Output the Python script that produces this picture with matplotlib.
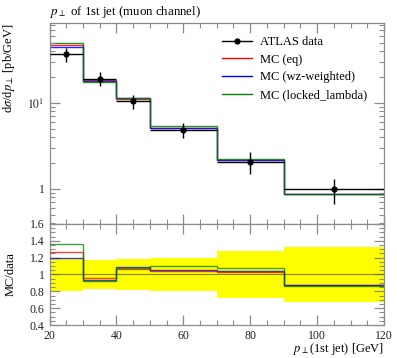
import numpy as np
import matplotlib
matplotlib.use("Agg")
import matplotlib.pyplot as plt
from matplotlib.ticker import MultipleLocator, FixedLocator, NullFormatter, LogLocator, FixedFormatter

plt.rcParams['font.family'] = ['Liberation Serif', 'DejaVu Serif']
plt.rcParams['mathtext.fontset'] = 'stix'

# ---- data ----
bin_edges = [20, 30, 40, 50, 70, 90, 120]
data_vals = [36.8, 19.2, 10.5, 4.85, 2.08, 0.99]
data_err = [7.0, 3.4, 1.9, 0.97, 0.58, 0.32]
mc_eq = [46.7, 18.4, 11.2, 5.07, 2.14, 0.87]
mc_wz = [44.2, 18.0, 11.4, 5.09, 2.16, 0.87]
mc_locked = [50.0, 17.7, 11.3, 5.36, 2.25, 0.86]

title = r"$p_\perp$ of 1st jet (muon channel)"
labels = ["ATLAS data", "MC (eq)", "MC (wz-weighted)", "MC (locked_lambda)"]
colors = ["black", "red", "blue", "green"]

edges = np.array(bin_edges, dtype=float)
centers = 0.5 * (edges[1:] + edges[:-1])
halfw = 0.5 * (edges[1:] - edges[:-1])
d = np.array(data_vals)
de = np.array(data_err)

W, H = 397, 358
fig = plt.figure(figsize=(W / 100, H / 100), dpi=100)
ax = fig.add_axes([49.5 / W, 1 - 224 / H, (384 - 49.5) / W, (224 - 23) / H])
axr = fig.add_axes([49.5 / W, 1 - 325 / H, (384 - 49.5) / W, (325 - 224) / H])

spc = '#8c8c8c'
for a in (ax, axr):
    for s in a.spines.values():
        s.set_color(spc)
        s.set_linewidth(0.9)
    a.tick_params(which='both', direction='in', top=True, right=True, color=spc,
                  labelsize=8.5, labelcolor='#222222')
    a.tick_params(which='major', length=7.5, width=0.9)
    a.tick_params(which='minor', length=3.8, width=0.8)
    a.set_xlim(20, 120)
    a.xaxis.set_major_locator(MultipleLocator(20))
    a.xaxis.set_minor_locator(MultipleLocator(5))

# main panel
ax.set_yscale('log')
ax.set_ylim(0.39, 85)
ax.yaxis.set_major_locator(FixedLocator([1, 10]))
ax.yaxis.set_major_formatter(FixedFormatter(["1", r"$10^{1}$"]))
ax.yaxis.set_minor_locator(LogLocator(base=10, subs=np.arange(2, 10)))
ax.yaxis.set_minor_formatter(NullFormatter())
ax.set_xticklabels([])

mcs = [mc_eq, mc_wz, mc_locked]
ax.errorbar(centers, d, yerr=de, xerr=halfw, fmt='o', color='black', ms=3.5,
            elinewidth=1.0, capsize=0, zorder=5)
handles = [ax.plot([], [], color='black', marker='o', ms=3.5, lw=1.0)[0]]
for mc, c in zip(mcs, colors[1:]):
    ax.stairs(mc, edges, baseline=None, color=c, lw=1.0, alpha=0.85)
    handles.append(ax.plot([], [], color=c, lw=1.0)[0])

ax.legend(handles, labels, loc='upper left', bbox_to_anchor=(0.5, 0.96), frameon=False,
          fontsize=9, handlelength=2.4, handletextpad=0.7, labelspacing=0.45,
          borderaxespad=0)

ax.set_ylabel(r"d$\sigma$/d$p_\perp$ [pb/GeV]", fontsize=9, loc='top')
ax.yaxis.set_label_coords(-0.098, 1.0)

fig.text(49.5 / W, 1 - 15 / H, title, fontsize=9.3, ha='left', va='baseline')

# ratio panel
axr.set_ylim(0.4, 1.6)
axr.yaxis.set_major_locator(MultipleLocator(0.2))
axr.yaxis.set_minor_locator(MultipleLocator(0.05))
axr.yaxis.set_major_formatter(matplotlib.ticker.FuncFormatter(
    lambda v, p: "1" if abs(v - 1) < 1e-6 else f"{v:.1f}"))
rel = de / d
axr.stairs(1 + rel, edges, baseline=1 - rel, fill=True, color='yellow', lw=0, zorder=1)
axr.axhline(1.0, color='#666600', lw=0.8, alpha=0.8, zorder=2)
for mc, c in zip(mcs, colors[1:]):
    axr.stairs(np.array(mc) / d, edges, baseline=None, color=c, lw=1.0, alpha=0.75, zorder=3)
axr.set_ylabel("MC/data", fontsize=9)
axr.yaxis.set_label_coords(-0.098, 0.5)
axr.set_xlabel(r"$p_\perp$(1st jet) [GeV]", fontsize=9, loc='right')
axr.xaxis.set_label_coords(1.0, -0.155)
axr.xaxis.label.set_va('top')

fig.savefig("out.png", dpi=100)
